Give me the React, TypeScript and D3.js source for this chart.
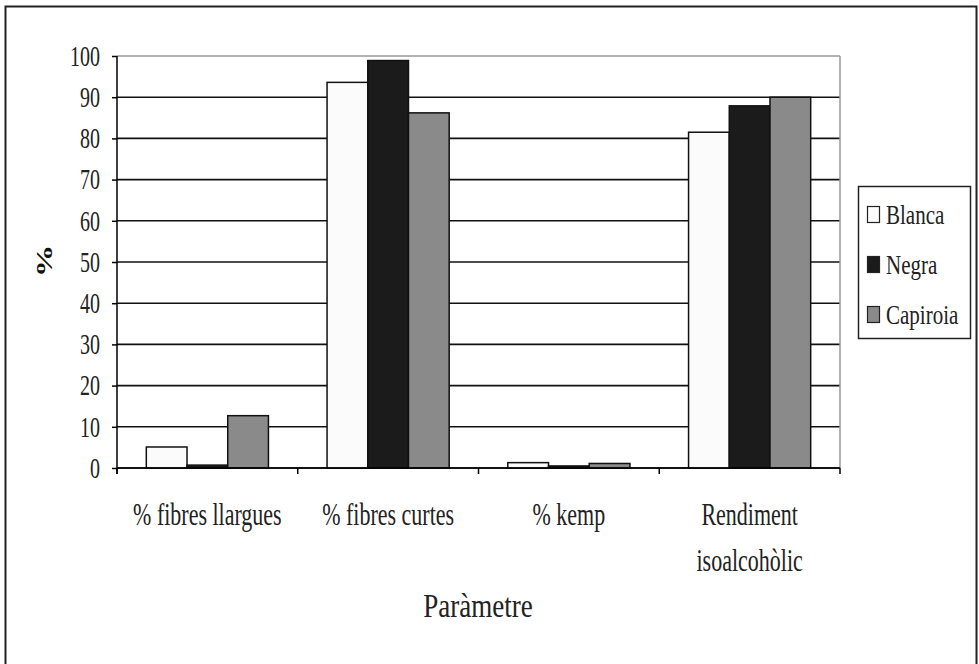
//@ts-nocheck
import * as d3 from "d3";
import { useRef, useEffect } from "react";

const categories = ["% fibres llargues", "% fibres curtes", "% kemp", "Rendiment isoalcohòlic"];
const categoryLines = [["% fibres llargues"], ["% fibres curtes"], ["% kemp"], ["Rendiment", "isoalcohòlic"]];
const series = ["Blanca", "Negra", "Capiroia"];
const blanca = [5.1, 93.6, 1.3, 81.5];
const negra = [0.7, 98.9, 0.5, 87.9];
const capiroia = [12.7, 86.2, 1.1, 90.0];
const yTicks = [0, 10, 20, 30, 40, 50, 60, 70, 80, 90, 100];
const colors = ["#fbfbfb", "#1b1b1b", "#8a8a8a"];

const width = 979;
const height = 664;
const marginLeft = 117;
const marginRight = 840;
const marginTop = 56;
const marginBottom = 468;
const font = "Times New Roman";

// the source picture is stretched vertically, so text is too
function Label({ x, y, size, sy, anchor = "middle", children, weight = "normal" }) {
  return (
    <text
      transform={`translate(${x},${y}) scale(1,${sy})`}
      fontFamily={font}
      fontSize={size}
      fontWeight={weight}
      fill="#222"
      textAnchor={anchor}
    >
      {children}
    </text>
  );
}

export default function App() {
  const values = [blanca, negra, capiroia];
  const x = d3.scaleBand(categories, [marginLeft, marginRight]).paddingInner(0).paddingOuter(0);
  const xi = d3.scaleBand(series, [0, x.bandwidth()]).paddingInner(0).paddingOuter(0.72);
  const y = d3.scaleLinear([0, 100], [marginBottom, marginTop]);

  const gy = useRef();
  const gx = useRef();

  useEffect(() => {
    const g = d3.select(gy.current);
    g.call(d3.axisLeft(y).tickValues(yTicks).tickSize(5).tickPadding(12));
    g.select(".domain").remove();
    g.selectAll(".tick line").attr("stroke", "#000").attr("stroke-width", 1.5);
    g.selectAll(".tick text")
      .attr("font-family", font)
      .attr("font-size", 20)
      .attr("fill", "#222")
      .attr("transform", "scale(1,1.45)");
  }, []);

  useEffect(() => {
    const g = d3.select(gx.current);
    const edges = [...categories.map((c) => x(c)), marginRight];
    g.selectAll("line.xt")
      .data(edges)
      .join("line")
      .attr("class", "xt")
      .attr("x1", (d) => d)
      .attr("x2", (d) => d)
      .attr("y1", 0)
      .attr("y2", 6)
      .attr("stroke", "#000")
      .attr("stroke-width", 1.5);
  }, []);

  return (
    <svg
      width={width}
      height={height}
      style={{ position: "absolute", left: 0, top: 0, background: "#fff" }}
    >
      <rect x={5.5} y={6.5} width={971} height={670} fill="#fff" stroke="#222" strokeWidth={2} />

      {/* gridlines */}
      <g>
        {yTicks.map((t) => (
          <line
            key={t}
            x1={marginLeft}
            x2={marginRight}
            y1={y(t)}
            y2={y(t)}
            stroke={t === 100 ? "#999" : "#111"}
            strokeWidth={1.6}
          />
        ))}
        <line x1={marginRight} x2={marginRight} y1={marginTop} y2={marginBottom} stroke="#999" strokeWidth={1.5} />
      </g>

      {/* bars */}
      <g stroke="#111" strokeWidth={1.5}>
        {categories.map((c, ci) =>
          series.map((s, si) => (
            <rect
              key={c + s}
              x={x(c) + xi(s)}
              y={y(values[si][ci])}
              width={xi.bandwidth()}
              height={y(0) - y(values[si][ci])}
              fill={colors[si]}
            />
          ))
        )}
      </g>

      {/* axes */}
      <line x1={marginLeft} x2={marginLeft} y1={marginTop} y2={marginBottom + 6} stroke="#000" strokeWidth={1.5} />
      <line x1={marginLeft} x2={marginRight} y1={marginBottom} y2={marginBottom} stroke="#000" strokeWidth={1.5} />
      <g ref={gy} transform={`translate(${marginLeft},0)`} />
      <g ref={gx} transform={`translate(0,${marginBottom})`} />

      {/* category labels */}
      {categories.map((c, ci) =>
        categoryLines[ci].map((l, li) => (
          <Label key={c + l} x={x(c) + x.bandwidth() / 2} y={525 + li * 46} size={22} sy={1.45}>
            {l}
          </Label>
        ))
      )}

      <Label x={478} y={617} size={27} sy={1.25}>
        Paràmetre
      </Label>
      <text
        transform="translate(52,261) scale(1,1.4) rotate(-90)"
        fontFamily={font}
        fontSize={23}
        fontWeight="bold"
        textAnchor="middle"
        fill="#111"
      >
        %
      </text>

      {/* legend */}
      <g>
        <rect x={858.5} y={186.5} width={112} height={152} fill="#fff" stroke="#222" strokeWidth={1.5} />
        {series.map((s, si) => (
          <g key={s} transform={`translate(867,${206 + si * 50})`}>
            <rect x={0.5} y={0.5} width={12} height={16} fill={colors[si]} stroke="#222" strokeWidth={1.2} />
            <Label x={19} y={18} size={21} sy={1.3} anchor="start">
              {s}
            </Label>
          </g>
        ))}
      </g>
    </svg>
  );
}
